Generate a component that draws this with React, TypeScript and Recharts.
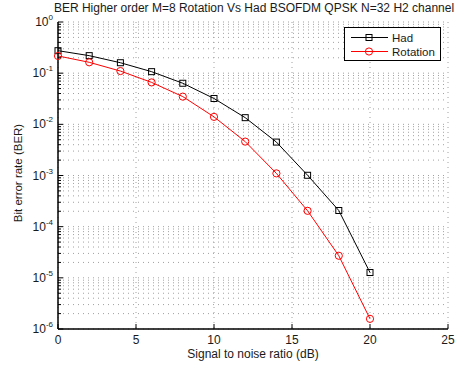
import React from "react";
import { CartesianGrid, Legend, Line, LineChart, XAxis, YAxis } from "recharts";

// SNR points (dB)
const snrDb = [0, 2, 4, 6, 8, 10, 12, 14, 16, 18, 20];

// BER
const hadBer = [0.275, 0.22, 0.16, 0.107, 0.0635, 0.032, 0.0135, 0.0045, 0.00101, 0.000207, 0.0000127];
const rotationBer = [0.217, 0.163, 0.11, 0.066, 0.0348, 0.014, 0.0046, 0.0011, 0.000204, 0.000027, 0.00000158];

const xTicks = [0, 5, 10, 15, 20, 25];
const yDecades = [1e-6, 1e-5, 1e-4, 1e-3, 1e-2, 1e-1, 1];
const minorSteps = [2, 3, 4, 5, 6, 7, 8, 9];

// decade + minor ticks, like matlab's log grid
const yTicks = yDecades.flatMap((d, i) =>
  i === yDecades.length - 1 ? [d] : [d, ...minorSteps.map((m) => d * m)]
);

const data = snrDb.map((snr, i) => ({
  snr,
  had: hadBer[i],
  rotation: rotationBer[i],
}));

const FONT = '"Liberation Sans", Arial, Helvetica, sans-serif';
const TEXT = "#1a1a1a";

const isDecade = (v: number) => {
  const l = Math.log10(v);
  return Math.abs(l - Math.round(l)) < 1e-6;
};

function YTick({ x, y, payload, side }: any) {
  const v = payload.value;
  const len = isDecade(v) ? 5 : 3;
  if (side === "right") {
    return <line x1={x - 5} x2={x - 5 - len} y1={y} y2={y} stroke="#000" />;
  }
  return (
    <g>
      <line x1={x + 5} x2={x + 5 + len} y1={y} y2={y} stroke="#000" />
      {isDecade(v) && (
        <text x={x} y={y + 4} textAnchor="end" fill={TEXT} fontSize={12}>
          <tspan>10</tspan>
          <tspan dy={-6} fontSize={8}>
            {String(Math.round(Math.log10(v)))}
          </tspan>
        </text>
      )}
    </g>
  );
}

function XTick({ x, y, payload, side }: any) {
  if (side === "top") {
    return <line x1={x} x2={x} y1={y + 5} y2={y + 10} stroke="#000" />;
  }
  return (
    <g>
      <line x1={x} x2={x} y1={y - 5} y2={y - 10} stroke="#000" />
      <text x={x} y={y + 10} textAnchor="middle" fill={TEXT} fontSize={12}>
        {payload.value}
      </text>
    </g>
  );
}

function SquareDot({ cx, cy, index }: any) {
  return (
    <rect
      key={`sq-${index}`}
      x={cx - 3}
      y={cy - 3}
      width={6}
      height={6}
      fill="none"
      stroke="#000"
      strokeWidth={1}
    />
  );
}

function CircleDot({ cx, cy, index }: any) {
  return (
    <circle key={`ci-${index}`} cx={cx} cy={cy} r={3.6} fill="none" stroke="#ff0000" strokeWidth={1} />
  );
}

function LegendBox() {
  return (
    <svg width={97} height={34} style={{ display: "block" }}>
      <rect x={0.5} y={0.5} width={96} height={33} fill="#fff" stroke="#000" />
      <line x1={7} x2={44} y1={10.5} y2={10.5} stroke="#000" />
      <rect x={22} y={7.5} width={6} height={6} fill="none" stroke="#000" />
      <text x={48} y={14.5} fontSize={11.5} fill={TEXT} fontFamily={FONT}>
        Had
      </text>
      <line x1={7} x2={44} y1={24.5} y2={24.5} stroke="#ff0000" />
      <circle cx={25} cy={24.5} r={3.6} fill="none" stroke="#ff0000" />
      <text x={48} y={28.5} fontSize={11.5} fill={TEXT} fontFamily={FONT}>
        Rotation
      </text>
    </svg>
  );
}

export default function App() {
  return (
    <div style={{ position: "absolute", left: 0, top: 0, background: "#fff" }}>
      <LineChart
        width={460}
        height={369}
        data={data}
        margin={{ top: 22, right: 12, left: 0, bottom: 0 }}
        style={{ fontFamily: FONT }}
      >
        <CartesianGrid stroke="#a0a0a0" strokeDasharray="1 4" />
        <XAxis
          dataKey="snr"
          type="number"
          domain={[0, 25]}
          ticks={xTicks}
          height={40}
          tickSize={0}
          tickMargin={5}
          tickLine={false}
          axisLine={{ stroke: "#000", strokeWidth: 1.5 }}
          tick={<XTick side="bottom" />}
          interval={0}
        />
        <XAxis
          xAxisId="top"
          orientation="top"
          type="number"
          domain={[0, 25]}
          ticks={xTicks}
          height={0}
          tickSize={0}
          tickMargin={5}
          tickLine={false}
          axisLine={{ stroke: "#000", strokeWidth: 1.5 }}
          tick={<XTick side="top" />}
          interval={0}
        />
        <YAxis
          scale="log"
          domain={[1e-6, 1]}
          allowDataOverflow
          ticks={yTicks}
          width={58}
          tickSize={0}
          tickMargin={5}
          tickLine={false}
          axisLine={{ stroke: "#000", strokeWidth: 1.5 }}
          tick={<YTick side="left" />}
          interval={0}
        />
        <YAxis
          yAxisId="right"
          orientation="right"
          scale="log"
          domain={[1e-6, 1]}
          allowDataOverflow
          ticks={yTicks}
          width={0}
          tickSize={0}
          tickMargin={5}
          tickLine={false}
          axisLine={{ stroke: "#000", strokeWidth: 1.5 }}
          tick={<YTick side="right" />}
          interval={0}
        />
        <Line
          dataKey="had"
          name="Had"
          stroke="#000"
          strokeWidth={1}
          dot={SquareDot}
          activeDot={false}
          isAnimationActive={false}
        />
        <Line
          dataKey="rotation"
          name="Rotation"
          stroke="#ff0000"
          strokeWidth={1}
          dot={CircleDot}
          activeDot={false}
          isAnimationActive={false}
        />
        <Legend
          layout="horizontal"
          verticalAlign="middle"
          content={() => <LegendBox />}
          wrapperStyle={{ position: "absolute", left: 344, top: 27, width: 97, height: 34 }}
        />
        <text x={254} y={12} textAnchor="middle" fontSize={12} fill={TEXT}>
          BER Higher order M=8 Rotation Vs Had BSOFDM QPSK N=32 H2 channel
        </text>
        <text x={253} y={358} textAnchor="middle" fontSize={12} fill={TEXT}>
          Signal to noise ratio (dB)
        </text>
        <text x={22} y={173} textAnchor="middle" fontSize={11.5} fill={TEXT} transform="rotate(-90 22 173)">
          Bit error rate (BER)
        </text>
      </LineChart>
    </div>
  );
}
